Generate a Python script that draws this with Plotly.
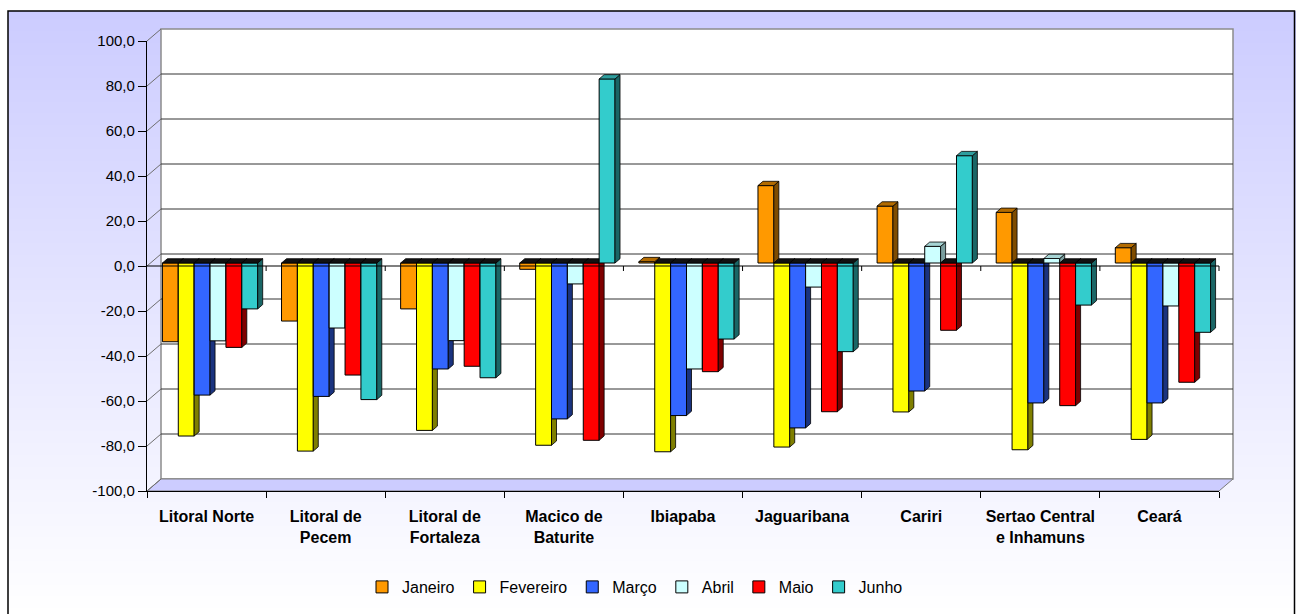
import base64
import struct
import zlib

import plotly.graph_objects as go

# ---------------------------------------------------------------- data
regions = [
    "Litoral Norte", "Litoral de<br>Pecem", "Litoral de<br>Fortaleza",
    "Macico de<br>Baturite", "Ibiapaba", "Jaguaribana", "Cariri",
    "Sertao Central<br>e Inhamuns", "Ceará",
]
months = ["Janeiro", "Fevereiro", "Março", "Abril", "Maio", "Junho"]

janeiro = [-35.0, -25.8, -20.4, -2.8, 0.6, 34.4, 25.3, 22.5, 6.8]
fevereiro = [-76.9, -83.6, -74.4, -81.0, -83.9, -81.8, -66.2, -83.0, -78.4]
marco = [-58.7, -59.3, -47.1, -69.3, -67.8, -73.3, -56.9, -62.2, -62.2]
abril = [-34.6, -28.9, -34.5, -9.3, -47.1, -10.7, 7.4, 2.0, -19.1]
maio = [-37.5, -49.8, -45.9, -78.8, -48.3, -66.1, -29.9, -63.4, -53.0]
junho = [-20.4, -60.7, -51.0, 81.8, -33.8, -39.4, 47.7, -18.7, -30.8]
series = [janeiro, fevereiro, marco, abril, maio, junho]

y_ticks = [-100, -80, -60, -40, -20, 0, 20, 40, 60, 80, 100]
y_ticktext = [f"{v},0" for v in y_ticks]

# ---------------------------------------------------------------- styling
front_colors = ["#FF9900", "#FFFF00", "#3366FF", "#CCFFFF", "#FF0000", "#33CCCC"]
side_colors = ["#7F4C00", "#7F7F00", "#1A337F", "#7A9E9E", "#7F0000", "#1A6666"]
top_colors = ["#B36B00", "#B3B300", "#2448B3", "#A6D4D4", "#B30000", "#2E9E9E"]

FONT = "Liberation Sans, Arial, sans-serif"
W, H = 1296, 614

# front plane of the 3-D box (pixels)
PL, PR, PT, PB = 147, 1219, 41, 491
YMIN, YMAX = -100, 100
N = len(regions)
CAT_PX = (PR - PL) / N
VAL_PX = (PB - PT) / (YMAX - YMIN)

# depth of the box (back wall offset) and of the column plane
BACK_DX, BACK_DY = 14, 12
COL_DX, COL_DY = 3.5, 3
# depth of each column (side / top faces)
FACE_DX = 5 / CAT_PX
FACE_DY = 4.3 / VAL_PX

GROUP = 0.8
BAR_W = GROUP / len(months)

# the columns stand slightly behind the front plane: the shared axis range
# is shifted so data values land on that plane; front ticks compensate
X_SHIFT = COL_DX / CAT_PX
Y_SHIFT = COL_DY / VAL_PX
X_RANGE = [-0.5 - X_SHIFT, N - 0.5 - X_SHIFT]
Y_RANGE = [YMIN - Y_SHIFT, YMAX - Y_SHIFT]


def px(x):
    return x / W


def py(y):
    return 1 - y / H


def val_y(v, lift=0.0):
    """Pixel row of value v on the front plane, lifted by `lift` pixels."""
    return PB - (v - YMIN) * VAL_PX - lift


def gradient_png(top, bottom, n=256):
    rows = []
    for i in range(n):
        c = bytes(round(t + (b - t) * i / (n - 1)) for t, b in zip(top, bottom))
        rows.append(b"\x00" + c * 2)
    raw = b"".join(rows)

    def chunk(tag, data):
        return (struct.pack(">I", len(data)) + tag + data
                + struct.pack(">I", zlib.crc32(tag + data) & 0xFFFFFFFF))

    png = (b"\x89PNG\r\n\x1a\n"
           + chunk(b"IHDR", struct.pack(">IIBBBBB", 2, n, 8, 2, 0, 0, 0))
           + chunk(b"IDAT", zlib.compress(raw))
           + chunk(b"IEND", b""))
    return "data:image/png;base64," + base64.b64encode(png).decode()


fig = go.Figure()

# ---------------------------------------------------------------- columns
# every month lives on its own (overlaid) axis pair so that later months
# are painted over the side faces of earlier ones
for k, (name, vals) in enumerate(zip(months, series)):
    xa = "x" if k == 0 else f"x{k + 1}"
    ya = "y" if k == 0 else f"y{k + 1}"
    offset = -GROUP / 2 + k * BAR_W
    fig.add_trace(go.Bar(
        x=list(range(N)), y=vals, name=name, width=BAR_W, offset=offset,
        marker=dict(color=front_colors[k], line=dict(color="black", width=1)),
        xaxis=xa, yaxis=ya, hoverinfo="x+y",
    ))
    side_x, side_y, ptop_x, ptop_y, ntop_x, ntop_y = [], [], [], [], [], []
    for i, v in enumerate(vals):
        xl = i + offset
        xr = xl + BAR_W
        side_x += [xr, xr + FACE_DX, xr + FACE_DX, xr, xr, None]
        side_y += [0, FACE_DY, v + FACE_DY, v, 0, None]
        top = max(v, 0)
        tx = [xl, xl + FACE_DX, xr + FACE_DX, xr, xl, None]
        ty = [top, top + FACE_DY, top + FACE_DY, top, top, None]
        if v > 0:
            ptop_x += tx
            ptop_y += ty
        else:
            ntop_x += tx
            ntop_y += ty
    fig.add_trace(go.Scatter(
        x=side_x, y=side_y, mode="lines", fill="toself",
        fillcolor=side_colors[k], line=dict(color="black", width=0.8),
        xaxis=xa, yaxis=ya, showlegend=False, hoverinfo="skip",
    ))
    if ptop_x:
        fig.add_trace(go.Scatter(
            x=ptop_x, y=ptop_y, mode="lines", fill="toself",
            fillcolor=top_colors[k], line=dict(color="black", width=0.8),
            xaxis=xa, yaxis=ya, showlegend=False, hoverinfo="skip",
        ))
    if ntop_x:
        fig.add_trace(go.Scatter(
            x=ntop_x, y=ntop_y, mode="lines", fill="toself",
            fillcolor="#111111", line=dict(color="black", width=0.8),
            xaxis=xa, yaxis=ya, showlegend=False, hoverinfo="skip",
        ))
    if k > 0:
        fig.update_layout(**{
            f"xaxis{k + 1}": dict(overlaying="x", anchor=ya, visible=False,
                                  range=X_RANGE),
            f"yaxis{k + 1}": dict(overlaying="y", anchor=xa, visible=False,
                                  range=Y_RANGE),
        })

# ---------------------------------------------------------------- box decoration
shapes = []
BL, BR, BT, BB = PL + BACK_DX, PR + BACK_DX, PT - BACK_DY, PB - BACK_DY

# back wall
shapes.append(dict(type="rect", xref="paper", yref="paper", layer="below",
                   x0=px(BL), x1=px(BR), y0=py(BB), y1=py(BT),
                   fillcolor="white", line=dict(color="#8C8C8C", width=1.5)))
# floor
floor = [(PL, PB), (BL, BB), (BR, BB), (PR, PB)]
path = "M" + " L".join(f"{px(a):.6f},{py(b):.6f}" for a, b in floor) + " Z"
shapes.append(dict(type="path", path=path, xref="paper", yref="paper",
                   layer="below", fillcolor="#CCCCFF",
                   line=dict(color="#7A7A7A", width=1)))
# back wall gridlines and left wall diagonals
for v in y_ticks:
    yb = val_y(v, BACK_DY)
    if YMIN < v < YMAX:
        shapes.append(dict(type="line", xref="paper", yref="paper", layer="below",
                           x0=px(BL), x1=px(BR), y0=py(yb), y1=py(yb),
                           line=dict(color="#333333", width=1)))
    yf = val_y(v)
    shapes.append(dict(type="line", xref="paper", yref="paper", layer="below",
                       x0=px(PL), x1=px(BL), y0=py(yf), y1=py(yb),
                       line=dict(color="#6E6E6E", width=1)))
# horizontal axis at zero on the front plane
y0px = val_y(0)
shapes.append(dict(type="line", xref="paper", yref="paper", layer="above",
                   x0=px(PL), x1=px(PR), y0=py(y0px), y1=py(y0px),
                   line=dict(color="black", width=1.2)))
for i in range(1, N + 1):
    xb = PL + i * CAT_PX
    shapes.append(dict(type="line", xref="paper", yref="paper", layer="above",
                       x0=px(xb), x1=px(xb), y0=py(y0px), y1=py(y0px + 5),
                       line=dict(color="black", width=1)))
# chart frame
shapes.append(dict(type="rect", xref="paper", yref="paper", layer="above",
                   x0=px(8), x1=px(1294.5), y0=py(616), y1=py(11),
                   line=dict(color="black", width=1.5)))

fig.update_layout(
    width=W, height=H, autosize=False,
    margin=dict(l=0, r=0, t=0, b=0, pad=0, autoexpand=False),
    paper_bgcolor="white", plot_bgcolor="rgba(0,0,0,0)",
    font=dict(family=FONT, color="black"),
    barmode="overlay",
    shapes=shapes,
    images=[dict(source=gradient_png((204, 204, 255), (255, 255, 255)),
                 xref="paper", yref="paper", x=px(8), y=py(11),
                 sizex=px(1296 - 8), sizey=(H - 11) / H,
                 xanchor="left", yanchor="top", sizing="stretch",
                 layer="below")],
    xaxis=dict(
        domain=[px(PL), px(PR)], range=X_RANGE, anchor="y",
        tickmode="array", tickvals=[i - X_SHIFT for i in range(N)],
        ticktext=regions,
        ticks="outside", ticklen=11, tickcolor="rgba(0,0,0,0)",
        tickfont=dict(family=FONT, size=16, weight="bold"),
        minor=dict(tickmode="array",
                   tickvals=[i - 0.5 - X_SHIFT for i in range(N + 1)],
                   ticks="outside", ticklen=6, tickcolor="black", showgrid=False),
        showline=True, linecolor="black", linewidth=1.2,
        showgrid=False, zeroline=False, fixedrange=True,
    ),
    yaxis=dict(
        domain=[py(PB), py(PT)], range=Y_RANGE, anchor="x",
        tickmode="array", tickvals=[v - Y_SHIFT for v in y_ticks],
        ticktext=y_ticktext,
        ticks="outside", ticklen=8, tickcolor="black",
        tickfont=dict(family=FONT, size=15),
        showline=True, linecolor="black", linewidth=1.2,
        showgrid=False, zeroline=False, fixedrange=True,
    ),
    legend=dict(
        orientation="h", x=px(635), xanchor="center",
        y=py(587), yanchor="middle",
        font=dict(family=FONT, size=16), bgcolor="rgba(0,0,0,0)",
        itemwidth=30, tracegroupgap=0,
    ),
)

fig.write_html("out.html")
